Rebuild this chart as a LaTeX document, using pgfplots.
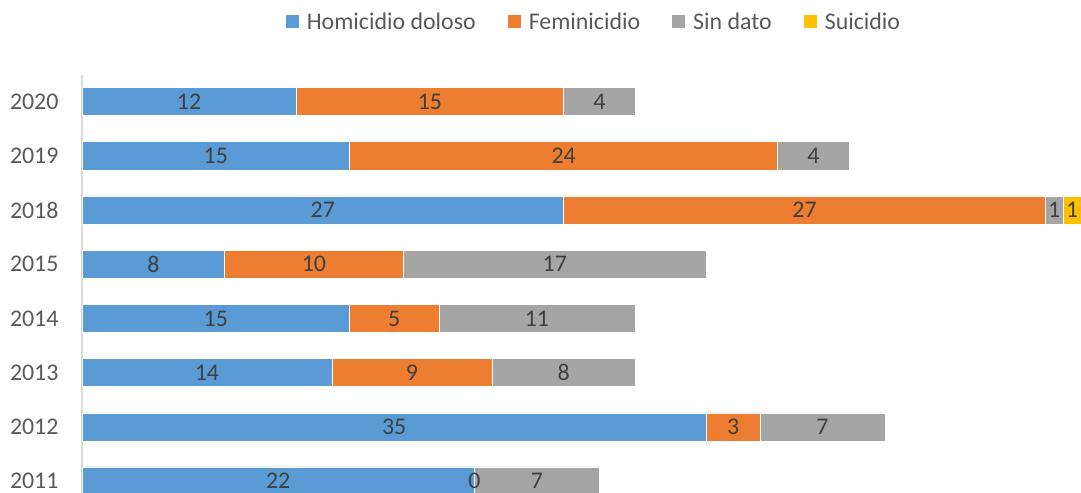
\documentclass[border=0pt]{standalone}
\usepackage{fontspec}
\setmainfont{Carlito}
\usepackage{pgfplots}
\usepackage{pgfplotstable}
\pgfplotsset{compat=1.18}
\definecolor{cblue}{HTML}{5B9BD5}
\definecolor{corange}{HTML}{ED7D31}
\definecolor{cgray}{HTML}{A5A5A5}
\definecolor{cyellow}{HTML}{FFC000}
\definecolor{tickgray}{HTML}{595959}
\definecolor{labgray}{HTML}{404040}
\definecolor{axisgray}{HTML}{D9D9D9}
% y index: 0=2011 ... 7=2020
\pgfplotstableread{
y h f s u
0 22 0 7 0
1 35 3 7 0
2 14 9 8 0
3 15 5 11 0
4 8 10 17 0
5 27 27 1 1
6 15 24 4 0
7 12 15 4 0
}\datatable
% data labels: segment centre, row, shown value
\pgfplotstableread{
x y lab
11 0 22
22 0 0
25.5 0 7
17.5 1 35
36.5 1 3
41.5 1 7
7 2 14
18.5 2 9
27 2 8
7.5 3 15
17.5 3 5
25.5 3 11
4 4 8
13 4 10
26.5 4 17
13.5 5 27
40.5 5 27
54.5 5 1
55.5 5 1
7.5 6 15
27 6 24
41 6 4
6 7 12
19.5 7 15
29 7 4
}\labeltable
\pgfplotsset{
  common/.style={
    at={(0,0)}, anchor=south west, scale only axis,
    width=999bp, height=418bp,
    xmin=0, xmax=56, ymin=-0.22, ymax=7.49,
  }
}
\begin{document}
\begin{tikzpicture}
\path[use as bounding box] (-82bp,0) rectangle (999bp,493bp);
\begin{axis}[
  common,
  xbar stacked, bar width=0.52,
  hide x axis,
  axis y line*=left,
  y axis line style={-, draw=axisgray, line width=1.3bp},
  ytick={0,...,7},
  yticklabels={2011,2012,2013,2014,2015,2018,2019,2020},
  major tick length=0pt,
  yticklabel style={font=\fontsize{24}{28}\selectfont, text=tickgray, xshift=-20bp},
  legend columns=4,
  legend style={at={(0.5125,1.127)}, anchor=center, draw=none, fill=none,
    font=\fontsize{24}{28}\selectfont, text=tickgray,
    /tikz/every odd column/.append style={column sep=6bp},
    /tikz/every even column/.append style={column sep=30bp}},
  legend image code/.code={\fill[#1, draw=none] (0bp,-6.5bp) rectangle (13bp,6.5bp);},
]
\addplot[fill=cblue, draw=white, line width=0.5bp] table[x=h, y=y] {\datatable};
\addlegendentry{Homicidio doloso}
\addplot[fill=corange, draw=white, line width=0.5bp] table[x=f, y=y] {\datatable};
\addlegendentry{Feminicidio}
\addplot[fill=cgray, draw=white, line width=0.5bp] table[x=s, y=y] {\datatable};
\addlegendentry{Sin dato}
\addplot[fill=cyellow, draw=white, line width=0.5bp] table[x=u, y=y] {\datatable};
\addlegendentry{Suicidio}
\end{axis}
\begin{axis}[
  common,
  hide axis,
]
\addplot[only marks, mark=*, mark size=0pt, mark options={draw=none, fill=none},
  nodes near coords, point meta=explicit symbolic,
  nodes near coords align={center},
  every node near coord/.append style={anchor=center, font=\fontsize{24}{28}\selectfont, text=labgray, inner sep=0pt}]
  table[x=x, y=y, meta=lab] {\labeltable};
\end{axis}
\end{tikzpicture}
\end{document}
